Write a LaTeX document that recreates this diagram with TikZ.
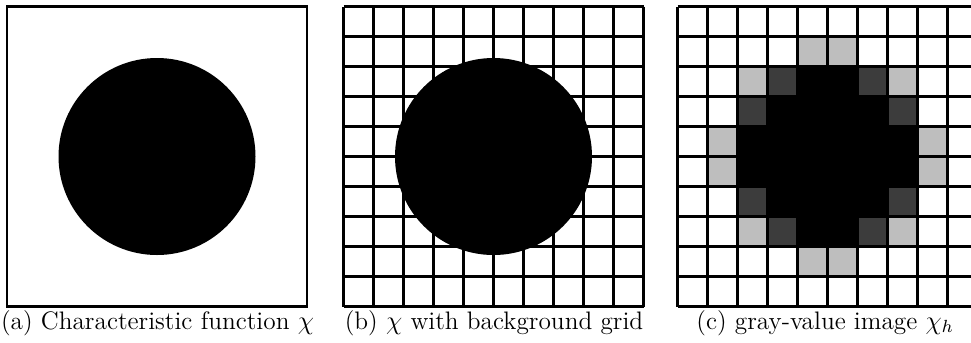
\documentclass[tikz,border=0pt]{standalone}
\definecolor{lightcell}{RGB}{190,190,190}
\definecolor{darkcell}{RGB}{60,60,60}
\begin{document}
\begin{tikzpicture}[x=0.4545pt,y=-0.4545pt,
  frame/.style={line width=1pt},
  gridlines/.style={line width=1pt},
  blob/.style={fill=black},
  lc/.style={fill=lightcell},
  dc/.style={fill=darkcell},
  bc/.style={fill=black},
  caption/.style={anchor=base,inner sep=0pt,font=\fontsize{11.5pt}{13.5pt}\selectfont}]
\useasboundingbox (0,0) rectangle (971,342);
\clip (0,0) rectangle (971,342);
% panel (a)
\draw[frame] (7,6.5) rectangle (307,306.5);
\fill[blob] (157,156.5) circle[radius=98.5];
\node[caption] (capa) at (157.5,329) {(a) Characteristic function $\chi$};
% panel (b)
\begin{scope}[shift={(343.5,6.5)}]
\foreach \i in {0,...,10}{
  \draw[gridlines] (\i*30,0) -- (\i*30,300);
  \draw[gridlines] (0,\i*30) -- (300,\i*30);
}
\fill[blob] (150,150) circle[radius=98.5];
\end{scope}
\node[caption] (capb) at (494,329) {(b) $\chi$ with background grid};
% panel (c)
\begin{scope}[shift={(677.5,6.5)}]
\newcommand\cellfill[3]{\fill[#3] (#1*30,#2*30) rectangle ++(30,30);}
% row 1
\cellfill{4}{1}{lc}\cellfill{5}{1}{lc}
% row 2
\cellfill{2}{2}{lc}\cellfill{3}{2}{dc}\cellfill{4}{2}{bc}\cellfill{5}{2}{bc}\cellfill{6}{2}{dc}\cellfill{7}{2}{lc}
% row 3
\cellfill{2}{3}{dc}\fill[bc] (90,90) rectangle (210,120);\cellfill{7}{3}{dc}
% rows 4,5
\cellfill{1}{4}{lc}\cellfill{1}{5}{lc}\fill[bc] (60,120) rectangle (240,180);\cellfill{8}{4}{lc}\cellfill{8}{5}{lc}
% row 6
\cellfill{2}{6}{dc}\fill[bc] (90,180) rectangle (210,210);\cellfill{7}{6}{dc}
% row 7
\cellfill{2}{7}{lc}\cellfill{3}{7}{dc}\cellfill{4}{7}{bc}\cellfill{5}{7}{bc}\cellfill{6}{7}{dc}\cellfill{7}{7}{lc}
% row 8
\cellfill{4}{8}{lc}\cellfill{5}{8}{lc}
\foreach \i in {0,...,10}{
  \draw[gridlines] (\i*30,0) -- (\i*30,300);
  \draw[gridlines] (0,\i*30) -- (300,\i*30);
}
\end{scope}
\node[caption] (capc) at (825,329) {(c) gray-value image $\chi_h$};
\end{tikzpicture}
\end{document}
